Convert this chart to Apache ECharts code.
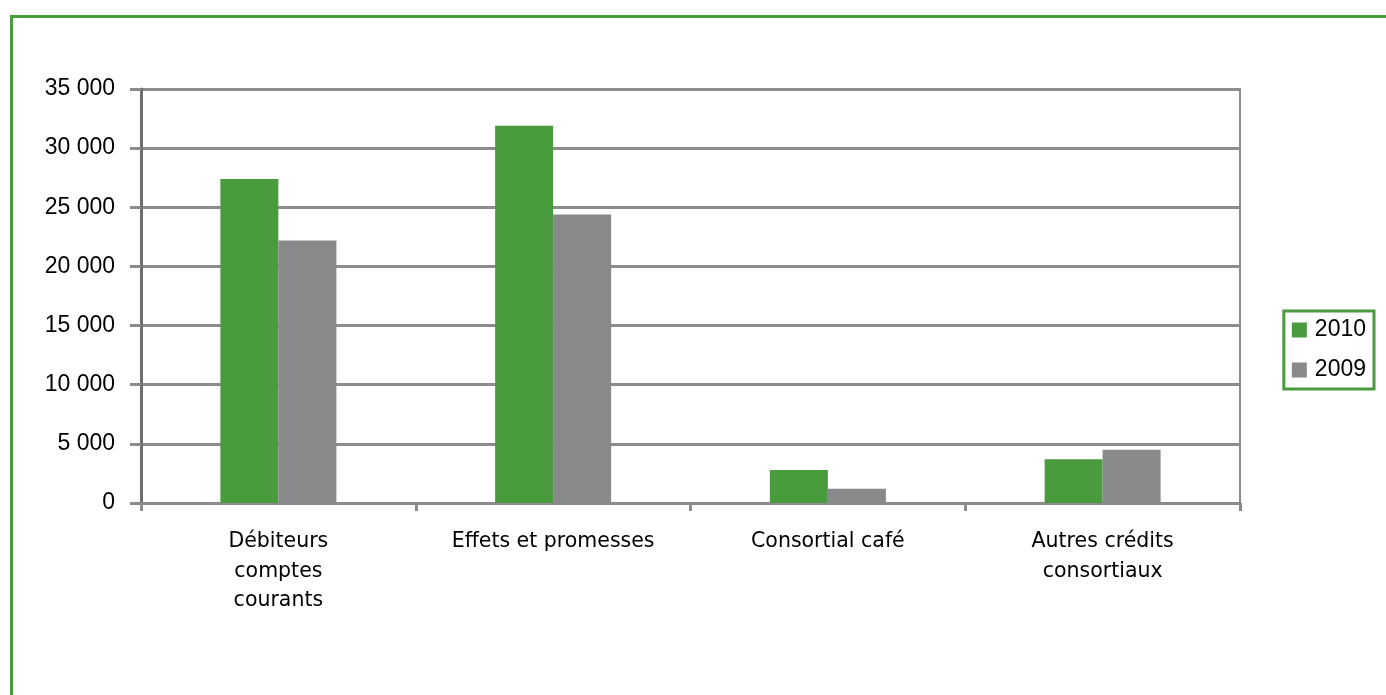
<!DOCTYPE html>
<html><head><meta charset="utf-8">
<script src="https://cdn.jsdelivr.net/npm/echarts@6/dist/echarts.min.js"></script>
<style>
html,body{margin:0;padding:0;background:#fff;}
#frame{position:absolute;left:10px;top:15px;width:1386px;height:700px;border-top:3px solid #4a9b3e;border-left:3px solid #4a9b3e;}
#c{position:absolute;left:0;top:0;width:1386px;height:695px;}
</style></head>
<body>
<div id="frame"></div>
<div id="c"></div>
<script>
const categories = ['Débiteurs\ncomptes\ncourants', 'Effets et promesses', 'Consortial café', 'Autres crédits\nconsortiaux'];
const values2010 = [27400, 31900, 2800, 3700];
const values2009 = [22200, 24400, 1200, 4500];
const seriesNames = ['2010', '2009'];

const chart = echarts.init(document.getElementById('c'));
chart.setOption({
  animation: false,
  grid: {left: 141, right: 146, top: 89, bottom: 192, show: true, borderColor: '#8c8c8c', borderWidth: 2, backgroundColor: 'transparent'},
  legend: {
    orient: 'vertical', right: 12, top: 311,
    data: seriesNames,
    icon: 'rect', itemWidth: 15, itemHeight: 15, itemGap: 16,
    padding: [7, 8, 7, 8],
    borderColor: '#4a9b3e', borderWidth: 3,
    textStyle: {fontFamily: 'Liberation Sans', fontSize: 23, color: '#000', padding: [0,0,0,3], lineHeight: 24}
  },
  xAxis: {
    type: 'category', data: categories,
    axisLine: {lineStyle: {color: '#8c8c8c', width: 3}},
    axisTick: {show: true, length: 8, lineStyle: {color: '#8c8c8c', width: 3}},
    axisLabel: {fontFamily: 'DejaVu Sans', fontSize: 20.5, color: '#000', lineHeight: 29.5, margin: 24}
  },
  yAxis: {
    type: 'value', min: 0, max: 35000, interval: 5000,
    axisLine: {show: true, lineStyle: {color: '#6e6e6e', width: 3}},
    axisTick: {show: true, length: 11, lineStyle: {color: '#8c8c8c', width: 3}},
    splitLine: {lineStyle: {color: '#8c8c8c', width: 3}},
    axisLabel: {fontFamily: 'Liberation Sans', fontSize: 23, color: '#000', margin: 26,
      formatter: v => String(v).replace(/\B(?=(\d{3})+(?!\d))/g, ' ')}
  },
  series: [
    {name: seriesNames[0], type: 'bar', data: values2010, barWidth: 58, barGap: '0%', itemStyle: {color: '#4a9b3e'}},
    {name: seriesNames[1], type: 'bar', data: values2009, barWidth: 58, barGap: '0%', itemStyle: {color: '#88898b'}}
  ]
});
</script>
</body></html>
